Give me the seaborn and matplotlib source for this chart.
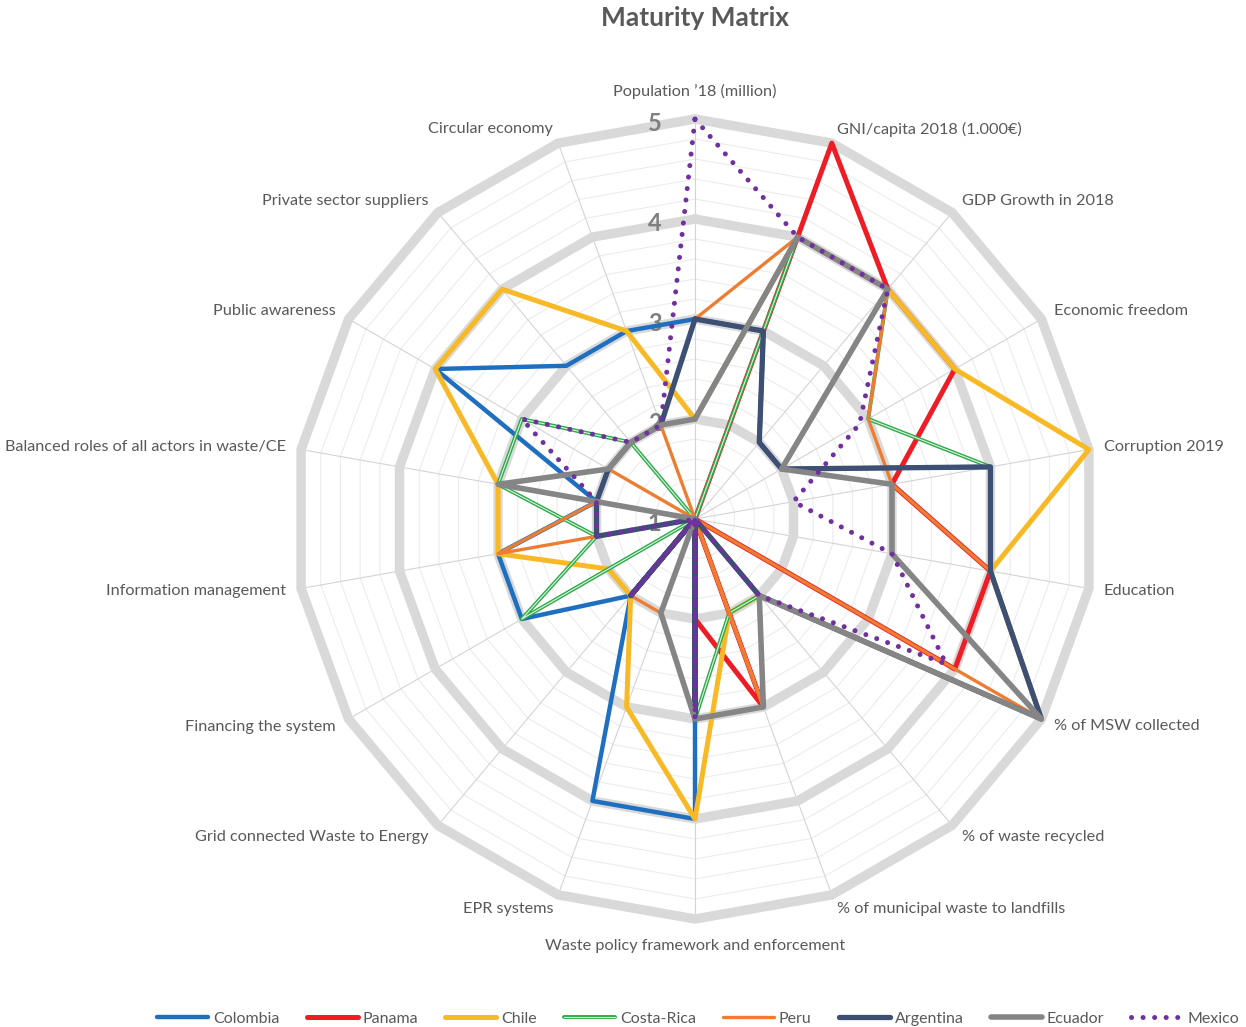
import numpy as np
import seaborn as sns
import matplotlib.pyplot as plt
import matplotlib.patheffects as pe

categories = ["Population \u201918 (million)", "GNI/capita 2018 (1.000\u20ac)", "GDP Growth in 2018",
              "Economic freedom", "Corruption 2019", "Education", "% of MSW collected",
              "% of waste recycled", "% of municipal waste to landfills",
              "Waste policy framework and enforcement", "EPR systems",
              "Grid connected Waste to Energy", "Financing the system", "Information management",
              "Balanced roles of all actors in waste/CE", "Public awareness",
              "Private sector suppliers", "Circular economy"]

colombia = [3, 3, 2, 2, 4, 4, 5, 2, 1, 4, 4, 2, 3, 3, 2, 4, 3, 3]
panama = [1, 5, 4, 4, 3, 4, 4, 1, 3, 2, 1, 1, 1, 1, 1, 1, 1, 1]
chile = [2, 4, 4, 4, 5, 4, 5, 2, 2, 4, 3, 2, 2, 3, 3, 4, 4, 3]
costa_rica = [1, 4, 4, 3, 4, 4, 5, 2, 2, 3, 1, 1, 3, 2, 3, 3, 2, 1]
peru = [3, 4, 4, 3, 3, 4, 5, 1, 3, 1, 2, 2, 1, 3, 2, 2, 1, 2]
argentina = [3, 3, 2, 2, 4, 4, 5, 2, 1, 3, 1, 2, 1, 2, 2, 2, 2, 2]
ecuador = [2, 4, 4, 2, 3, 3, 5, 2, 3, 3, 2, 1, 1, 1, 3, 2, 2, 2]
mexico = [5, 4, 4, 2.9, 2, 3, 3.9, 2, 1, 3, 1, 2, 1, 2, 2, 3, 2, 2]

countries = ['Colombia', 'Panama', 'Chile', 'Costa-Rica', 'Peru', 'Argentina', 'Ecuador', 'Mexico']
series = [colombia, panama, chile, costa_rica, peru, argentina, ecuador, mexico]
colors = ['#1f6fc0', '#ee1c25', '#f7b925', '#2eaa4a', '#ed7d31', '#3e4f74', '#858585', '#7030a0']
widths = [3.2, 3.6, 3.6, 2.8, 2.4, 3.8, 4.0, 3.4]

sns.set_style('white')
plt.rcParams['font.family'] = ['Lato', 'DejaVu Sans']
grey = '#595959'

fig = plt.figure(figsize=(12.46, 10.27), dpi=100)
ax = fig.add_axes([295 / 1246, 108 / 1027, 800 / 1246, 800 / 1027], projection='polar')
ax.set_theta_offset(np.pi / 2)
ax.set_theta_direction(-1)
ax.grid(False)
ax.spines['polar'].set_visible(False)
ax.patch.set_visible(False)

n = len(categories)
theta = np.linspace(0, 2 * np.pi, n + 1)

# polygon grid: thin minor rings, thick major rings, spokes
for v in np.arange(1.2, 5.0, 0.2):
    if abs(v - round(v)) > 0.01:
        ax.plot(theta, [v] * (n + 1), color='#ececec', lw=0.8, zorder=0, clip_on=False)
for t in theta[:-1]:
    ax.plot([t, t], [1, 5], color='#d4d4d4', lw=0.8, zorder=0.5, clip_on=False)
for v in [2, 3, 4, 5]:
    ax.plot(theta, [v] * (n + 1), color='#d9d9d9', lw=6.8, zorder=1, clip_on=False,
            solid_joinstyle='miter')

for v in [1, 2, 3, 4, 5]:
    ax.annotate(str(v), (0, v), xytext=(-29, -3), textcoords='offset points',
                ha='center', va='center', fontsize=17, fontweight='bold', color='#7f7f7f',
                zorder=1.5, annotation_clip=False)

handles = []
for name, vals, c, w in zip(countries, series, colors, widths):
    kw = dict(color=c, lw=w, clip_on=False, zorder=3)
    if name == 'Mexico':
        kw.update(linestyle=(0, (0.01, 2.3)), dash_capstyle='round', lw=3.6)
    if name == 'Costa-Rica':
        kw.update(color='#dff3e2', lw=0.8,
                  path_effects=[pe.Stroke(linewidth=w, foreground=c), pe.Normal()])
    sns.lineplot(x=theta, y=vals + vals[:1], sort=False, ax=ax, legend=False, **kw)
    handles.append(ax.lines[-1])

ax.set_ylim(1, 5)
ax.set_xticks([])
ax.set_yticks([])
ax.set_xlabel('')
ax.set_ylabel('')

for i, lab in enumerate(categories):
    t = theta[i]
    deg = np.degrees(t)
    if deg == 0:
        ha, va, r = 'center', 'bottom', 5.2
    elif deg == 180:
        ha, va, r = 'center', 'top', 5.2
    elif deg < 180:
        ha, va, r = 'left', 'center', 5.15
    else:
        ha, va, r = 'right', 'center', 5.15
    ax.text(t, r, lab, ha=ha, va=va, fontsize=11.7, color=grey)

fig.text(695 / 1246, 1 - 18 / 1027, 'Maturity Matrix', ha='center', va='center',
         fontsize=19, fontweight='bold', color=grey)

fig.legend(handles, countries, loc='lower center', bbox_to_anchor=(698 / 1246, -0.013),
           ncol=8, frameon=False, fontsize=11.5, handlelength=3.2, handletextpad=0.3,
           columnspacing=1.7, labelcolor=grey)

fig.savefig('out.png', dpi=100)
